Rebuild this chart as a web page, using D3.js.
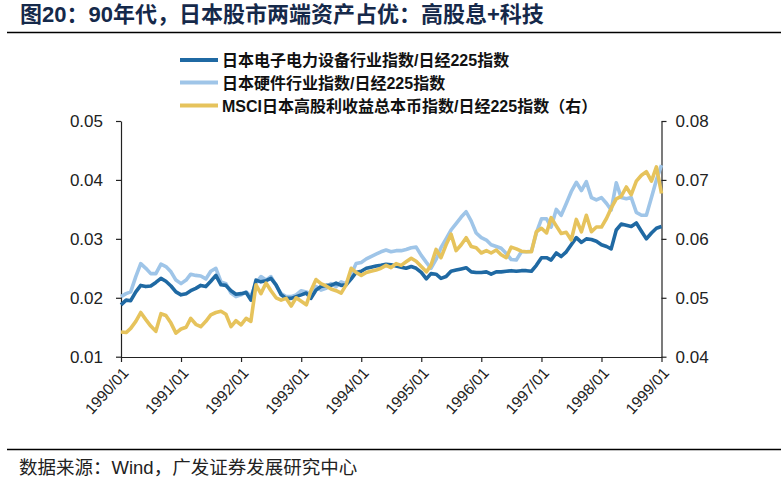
<!DOCTYPE html>
<html lang="zh">
<head>
<meta charset="UTF-8">
<title>图20</title>
<script src="https://d3js.org/d3.v7.min.js"></script>
<style>
  body { margin: 0; background: #fff; }
  svg { display: block; }
  .tick text { font-family: "Liberation Sans", Arial, sans-serif; fill: #222; }
</style>
</head>
<body>
<svg id="chart" width="781" height="485"></svg>
<script>
// monthly observations, 1990/01 .. 1999/01
const startMonth = new Date(1990, 0, 1);
const endMonth = new Date(1999, 0, 1);

// 日本电子电力设备行业指数/日经225指数 (left axis)
const electronics = [
  0.0188, 0.0196, 0.0195, 0.0210, 0.0221, 0.0219, 0.0220, 0.0226, 0.0233, 0.0228,
  0.0220, 0.0210, 0.0205, 0.0207, 0.0212, 0.0216, 0.0221, 0.0219, 0.0228, 0.0238,
  0.0222, 0.0221, 0.0212, 0.0206, 0.0207, 0.0209, 0.0196, 0.0230, 0.0227, 0.0229,
  0.0233, 0.0222, 0.0205, 0.0199, 0.0199, 0.0202, 0.0205, 0.0208, 0.0199, 0.0213,
  0.0219, 0.0221, 0.0221, 0.0225, 0.0221, 0.0222, 0.0232, 0.0243, 0.0245, 0.0250,
  0.0252, 0.0254, 0.0255, 0.0257, 0.0256, 0.0254, 0.0252, 0.0250, 0.0253, 0.0250,
  0.0243, 0.0232, 0.0241, 0.0240, 0.0233, 0.0236, 0.0245, 0.0247, 0.0249, 0.0251,
  0.0244, 0.0243, 0.0243, 0.0244, 0.0240, 0.0244, 0.0244, 0.0245, 0.0246, 0.0245,
  0.0246, 0.0246, 0.0245, 0.0255, 0.0268, 0.0268, 0.0264, 0.0276, 0.0270, 0.0278,
  0.0290, 0.0302, 0.0294, 0.0300, 0.0299, 0.0296, 0.0290, 0.0287, 0.0283, 0.0315,
  0.0325, 0.0323, 0.0321, 0.0327, 0.0313, 0.0300, 0.0310, 0.0318, 0.0321
];

// 日本硬件行业指数/日经225指数 (left axis)
const hardware = [
  0.0202, 0.0207, 0.0210, 0.0236, 0.0258, 0.0250, 0.0241, 0.0241, 0.0257, 0.0253,
  0.0244, 0.0230, 0.0224, 0.0230, 0.0240, 0.0238, 0.0237, 0.0232, 0.0245, 0.0250,
  0.0227, 0.0224, 0.0208, 0.0202, 0.0205, 0.0210, 0.0202, 0.0225, 0.0236, 0.0230,
  0.0236, 0.0221, 0.0207, 0.0202, 0.0202, 0.0205, 0.0212, 0.0210, 0.0207, 0.0219,
  0.0213, 0.0216, 0.0224, 0.0219, 0.0227, 0.0224, 0.0240, 0.0258, 0.0260, 0.0266,
  0.0270, 0.0274, 0.0278, 0.0281, 0.0278, 0.0280, 0.0280, 0.0282, 0.0285, 0.0286,
  0.0272, 0.0260, 0.0250, 0.0265, 0.0285, 0.0300, 0.0315, 0.0326, 0.0337, 0.0346,
  0.0330, 0.0310, 0.0302, 0.0298, 0.0290, 0.0287, 0.0284, 0.0275, 0.0265, 0.0264,
  0.0278, 0.0278, 0.0279, 0.0310, 0.0334, 0.0334, 0.0320, 0.0350, 0.0340, 0.0360,
  0.0380, 0.0396, 0.0382, 0.0397, 0.0370, 0.0366, 0.0370, 0.0360, 0.0349, 0.0395,
  0.0370, 0.0368, 0.0370, 0.0345, 0.0340, 0.0340, 0.0370, 0.0400, 0.0425
];

// MSCI日本高股利收益总本币指数/日经225指数 (right axis)
const highDividend = [
  0.0442, 0.0441, 0.0448, 0.0460, 0.0475, 0.0463, 0.0452, 0.0443, 0.0473, 0.0470,
  0.0457, 0.0440, 0.0447, 0.0450, 0.0465, 0.0455, 0.0451, 0.0460, 0.0471, 0.0475,
  0.0477, 0.0472, 0.0451, 0.0461, 0.0454, 0.0465, 0.0460, 0.0522, 0.0507, 0.0525,
  0.0512, 0.0500, 0.0496, 0.0499, 0.0486, 0.0500, 0.0494, 0.0488, 0.0512, 0.0531,
  0.0524, 0.0520, 0.0515, 0.0512, 0.0508, 0.0522, 0.0550, 0.0543, 0.0538, 0.0543,
  0.0545, 0.0547, 0.0550, 0.0555, 0.0551, 0.0558, 0.0555, 0.0561, 0.0567, 0.0562,
  0.0553, 0.0544, 0.0555, 0.0582, 0.0568, 0.0590, 0.0608, 0.0580, 0.0590, 0.0602,
  0.0587, 0.0585, 0.0576, 0.0580, 0.0576, 0.0581, 0.0573, 0.0568, 0.0586, 0.0583,
  0.0579, 0.0578, 0.0578, 0.0612, 0.0618, 0.0610, 0.0636, 0.0622, 0.0609, 0.0611,
  0.0598, 0.0633, 0.0612, 0.0640, 0.0612, 0.0620, 0.0620, 0.0635, 0.0652, 0.0668,
  0.0672, 0.0688, 0.0675, 0.0698, 0.0708, 0.0714, 0.0698, 0.0722, 0.0677
];

const seriesNames = [
  "日本电子电力设备行业指数/日经225指数",
  "日本硬件行业指数/日经225指数",
  "MSCI日本高股利收益总本币指数/日经225指数（右）"
];
const leftTicks = [0.01, 0.02, 0.03, 0.04, 0.05];
const rightTicks = [0.04, 0.05, 0.06, 0.07, 0.08];

const months = d3.timeMonth.range(startMonth, d3.timeMonth.offset(endMonth, 1));

const svg = d3.select("#chart");
const margin = {top: 121, right: 120, bottom: 128, left: 121};
const W = 781, H = 485;

const x = d3.scaleTime()
  .domain([startMonth, endMonth])
  .range([margin.left, W - margin.right + 0.5]);
const yL = d3.scaleLinear().domain([0.01, 0.05]).range([H - margin.bottom - 0.3, margin.top]);
const yR = d3.scaleLinear().domain([0.04, 0.08]).range([H - margin.bottom - 0.3, margin.top]);

// title
svg.append("text")
  .attr("x", 20).attr("y", 22)
  .style("font-family", "'Liberation Sans', 'Noto Sans CJK SC', sans-serif")
  .style("font-weight", "bold")
  .style("font-size", "22px")
  .attr("fill", "#15294a")
  .text("图20：90年代，日本股市两端资产占优：高股息+科技");

svg.append("line")
  .attr("x1", 7).attr("x2", W).attr("y1", 32.5).attr("y2", 32.5)
  .attr("stroke", "#000").attr("stroke-width", 1.3);

svg.append("line")
  .attr("x1", 7).attr("x2", W).attr("y1", 449.5).attr("y2", 449.5)
  .attr("stroke", "#000").attr("stroke-width", 1.3);

svg.append("text")
  .attr("x", 19).attr("y", 474)
  .style("font-family", "'Liberation Sans', 'Noto Sans CJK SC', sans-serif")
  .style("font-size", "18.5px")
  .attr("fill", "#222")
  .text("数据来源：Wind，广发证券发展研究中心");

// axes
const xAxis = svg.append("g")
  .attr("transform", `translate(0,${H - margin.bottom})`)
  .call(d3.axisBottom(x)
    .ticks(d3.timeYear.every(1))
    .tickFormat(d3.timeFormat("%Y/%m"))
    .tickSize(5)
    .tickSizeOuter(0));
xAxis.selectAll("text")
  .style("font-size", "15.5px")
  .style("text-anchor", "end")
  .attr("x", 0).attr("y", 0)
  .attr("dy", "0.35em")
  .attr("transform", "translate(4,13) rotate(-48)");

const leftAxis = svg.append("g")
  .attr("transform", `translate(${margin.left},0)`)
  .call(d3.axisLeft(yL).tickValues(leftTicks).tickFormat(d3.format(".2f"))
    .tickSize(5).tickPadding(13).tickSizeOuter(0));
leftAxis.selectAll("text").style("font-size", "17px");

const rightAxis = svg.append("g")
  .attr("transform", `translate(${W - margin.right + 0.5},0)`)
  .call(d3.axisRight(yR).tickValues(rightTicks).tickFormat(d3.format(".2f"))
    .tickSize(5).tickPadding(9).tickSizeOuter(0));
rightAxis.selectAll("text").style("font-size", "17px");

svg.selectAll(".domain, .tick line").attr("stroke", "#222").attr("stroke-width", 1.2);

// lines
const colors = ["#1f69a3", "#9fc5e8", "#e6c35c"];
const lineL = d3.line().x((d, i) => x(months[i])).y(d => yL(d));
const lineR = d3.line().x((d, i) => x(months[i])).y(d => yR(d));

svg.append("path").datum(hardware)
  .attr("d", lineL).attr("fill", "none")
  .attr("stroke", colors[1]).attr("stroke-width", 3.6).attr("stroke-linejoin", "round");
svg.append("path").datum(electronics)
  .attr("d", lineL).attr("fill", "none")
  .attr("stroke", colors[0]).attr("stroke-width", 3.6).attr("stroke-linejoin", "round");
svg.append("path").datum(highDividend)
  .attr("d", lineR).attr("fill", "none")
  .attr("stroke", colors[2]).attr("stroke-width", 3.6).attr("stroke-linejoin", "round");

// legend
const legend = svg.append("g");
const legendY = [60, 82.5, 105.5];
seriesNames.forEach((name, i) => {
  legend.append("line")
    .attr("x1", 180).attr("x2", 218)
    .attr("y1", legendY[i]).attr("y2", legendY[i])
    .attr("stroke", colors[i]).attr("stroke-width", 4);
  legend.append("text")
    .attr("x", 222).attr("y", legendY[i] + 6)
    .style("font-family", "'Liberation Sans', 'Noto Sans CJK SC', sans-serif")
    .style("font-weight", "bold")
    .style("font-size", "16px")
    .attr("fill", "#111")
    .text(name);
});
</script>
</body>
</html>
